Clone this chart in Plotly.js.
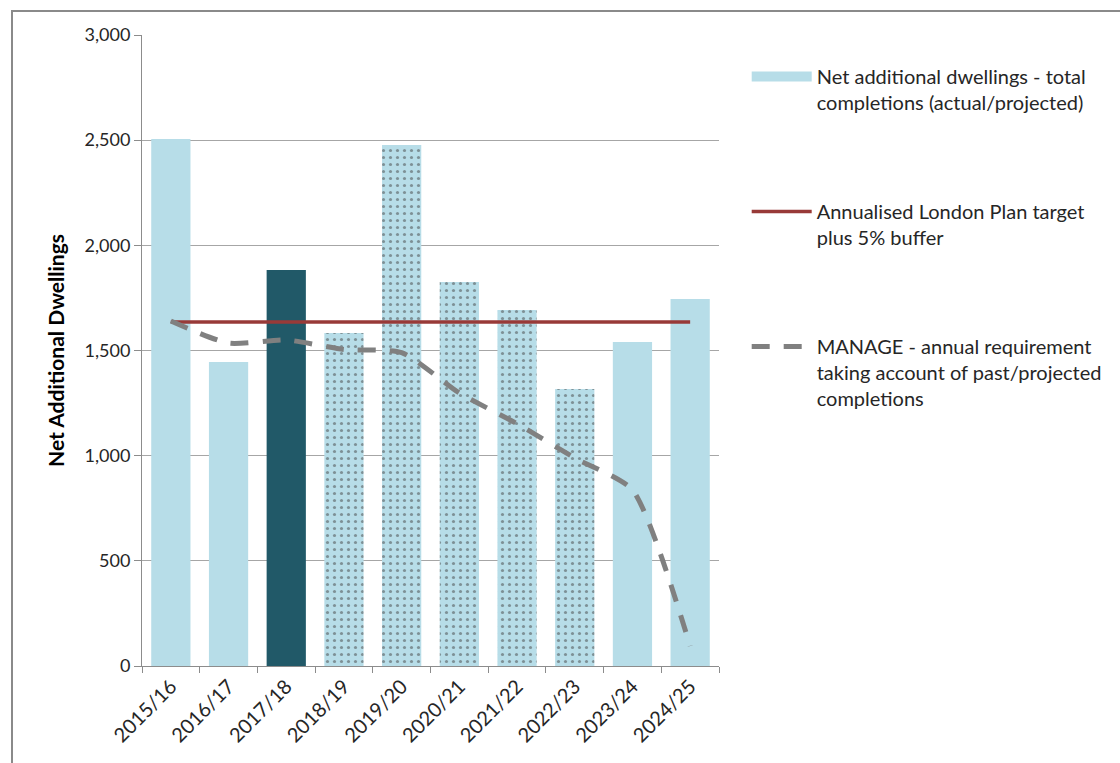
<!DOCTYPE html>
<html>
<head>
<meta charset="utf-8">
<script src="https://cdn.plot.ly/plotly-3.0.1.min.js"></script>
<style>
  html, body { margin: 0; padding: 0; background: #fff; }
  #wrap { position: relative; width: 1120px; height: 763px; overflow: hidden; }
  #chart { position: absolute; left: 0; top: 0; width: 1120px; height: 763px; }
  #frame { position: absolute; left: 11px; top: 10px; width: 1300px; height: 900px;
           border-left: 2px solid #8a8a8a; border-top: 2px solid #8a8a8a; pointer-events: none; }
</style>
</head>
<body>
<div id="wrap">
  <div id="chart"></div>
  <div id="frame"></div>
</div>
<script>
const categories = ["2015/16", "2016/17", "2017/18", "2018/19", "2019/20",
                    "2020/21", "2021/22", "2022/23", "2023/24", "2024/25"];
const completions = [2505, 1445, 1883, 1583, 2477, 1826, 1693, 1317, 1541, 1745];
const target = [1636, 1636, 1636, 1636, 1636, 1636, 1636, 1636, 1636, 1636];
const manage = [1640, 1535, 1550, 1505, 1490, 1298, 1152, 989, 837, 95];
const barKinds = ["actual", "actual", "current", "projected", "projected",
                  "projected", "projected", "projected", "actual", "actual"];

const seriesNames = [
  "Net additional dwellings - total<br>completions (actual/projected)",
  "Annualised London Plan target<br>plus 5% buffer",
  "MANAGE - annual requirement<br>taking account of past/projected<br>completions"
];

const light = "#B7DDE8", dark = "#215968";
const barColors = barKinds.map(k => k === "current" ? dark : light);
const barShapes = barKinds.map(k => k === "projected" ? "." : "");

const FONT = "Lato, 'Open Sans', sans-serif";

const traces = [
  {
    type: "bar", x: categories, y: completions, name: seriesNames[0],
    legendgroup: "a", showlegend: false,
    marker: {
      color: barColors,
      line: {width: 0},
      pattern: {shape: barShapes, fgcolor: dark, size: 7, solidity: 0.16, fillmode: "overlay"}
    },
    hoverinfo: "x+y"
  },
  {
    // legend key for the bar series (wide light-blue block, as in the original)
    type: "scatter", mode: "lines", x: [null], y: [null], name: seriesNames[0],
    legendgroup: "a",
    line: {color: light, width: 12}
  },
  {
    type: "scatter", mode: "lines", x: categories, y: target, name: seriesNames[1],
    legendgroup: "b",
    line: {color: "#983A38", width: 3.5}
  },
  {
    type: "scatter", mode: "lines", x: categories, y: manage, name: seriesNames[2],
    legendgroup: "c",
    line: {color: "#808080", width: 5, dash: "18px,14px", shape: "spline", smoothing: 0.6}
  }
];

const layout = {
  width: 1120, height: 763,
  margin: {l: 142, r: 401, t: 35, b: 97},
  paper_bgcolor: "#ffffff", plot_bgcolor: "#ffffff",
  font: {family: FONT, size: 18, color: "#262626"},
  bargap: 0.32,
  showlegend: true,
  legend: {
    x: 1.048, xanchor: "left", y: 0.965, yanchor: "top",
    traceorder: "grouped", tracegroupgap: 80, valign: "top",
    itemwidth: 60, font: {family: FONT, size: 20, color: "#262626"},
    bgcolor: "rgba(0,0,0,0)"
  },
  xaxis: {
    type: "category",
    showgrid: false,
    showline: true, linecolor: "#8c8c8c", linewidth: 1,
    ticks: "outside", tickson: "boundaries", ticklen: 6, tickcolor: "#8c8c8c",
    tickangle: -45,
    tickfont: {family: FONT, size: 20, color: "#262626"}
  },
  yaxis: {
    range: [0, 3000],
    tickvals: [0, 500, 1000, 1500, 2000, 2500, 3000],
    ticktext: ["0", "500", "1,000", "1,500", "2,000", "2,500", "3,000"],
    showgrid: true, gridcolor: "#a6a6a6", gridwidth: 1,
    showline: true, linecolor: "#8c8c8c", linewidth: 1,
    ticks: "outside", ticklen: 7, tickcolor: "#8c8c8c",
    zeroline: false,
    tickfont: {family: FONT, size: 18, color: "#262626"},
    title: {text: "<b>Net Additional Dwellings</b>", font: {family: FONT, size: 21, color: "#000"}, standoff: 14}
  }
};

Plotly.newPlot("chart", traces, layout, {displayModeBar: false, staticPlot: true});
</script>
</body>
</html>
